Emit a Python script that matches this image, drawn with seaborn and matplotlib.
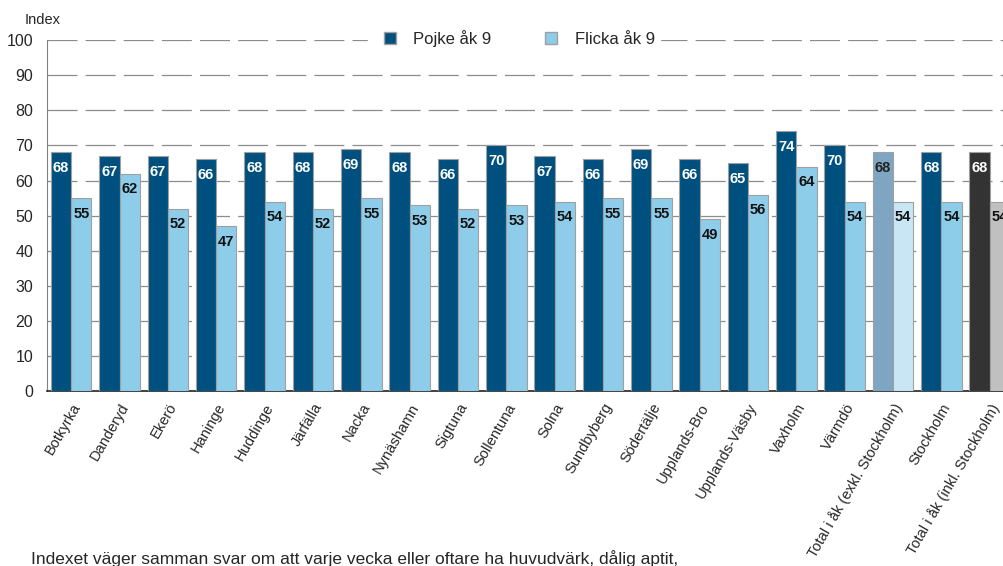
import numpy as np
import pandas as pd
import matplotlib
matplotlib.use("Agg")
import matplotlib.pyplot as plt
import seaborn as sns
from matplotlib.lines import Line2D

# Data
kommuner = ['Botkyrka', 'Danderyd', 'Ekerö', 'Haninge', 'Huddinge', 'Järfälla',
            'Nacka', 'Nynäshamn', 'Sigtuna', 'Sollentuna', 'Solna', 'Sundbyberg',
            'Södertälje', 'Upplands-Bro', 'Upplands-Väsby', 'Vaxholm', 'Värmdö',
            'Total i åk (exkl. Stockholm)', 'Stockholm', 'Total i åk (inkl. Stockholm)']
pojke = [68, 67, 67, 66, 68, 68, 69, 68, 66, 70, 67, 66, 69, 66, 65, 74, 70, 68, 68, 68]
flicka = [55, 62, 52, 47, 54, 52, 55, 53, 52, 53, 54, 55, 55, 49, 56, 64, 54, 54, 54, 54]

serier = ['Pojke åk 9', 'Flicka åk 9']

df = pd.DataFrame({
    'Kommun': kommuner * 2,
    'Grupp': [serier[0]] * len(kommuner) + [serier[1]] * len(kommuner),
    'Index': pojke + flicka,
})

DARK = '#00507f'
LIGHT = '#8ecdea'

sns.set_style('white')
plt.rcParams['font.family'] = ['Liberation Sans', 'DejaVu Sans']

fig = plt.figure(figsize=(10.04, 5.66), dpi=100)
ax = fig.add_axes([0.0468, 0.309, 0.963, 0.620])

sns.barplot(data=df, x='Kommun', y='Index', hue='Grupp', order=kommuner,
            hue_order=serier, palette=[DARK, LIGHT], width=0.84, saturation=1,
            edgecolor='#a0a0a0', linewidth=0.8, legend=False, ax=ax, zorder=3)

# special colours for the total bars
special = {
    'Total i åk (exkl. Stockholm)': ('#7ea6c2', '#c9e6f5', '#222222'),
    'Total i åk (inkl. Stockholm)': ('#333333', '#c0c0c0', 'white'),
}

for ci, cont in enumerate(ax.containers):
    for i, bar in enumerate(cont):
        name = kommuner[i]
        txtcol = 'white' if ci == 0 else '#111111'
        if name in special:
            bar.set_facecolor(special[name][ci])
            if ci == 0:
                txtcol = special[name][2]
        h = bar.get_height()
        ax.text(bar.get_x() + bar.get_width() / 2, h - 4.5, f'{h:.0f}',
                ha='center', va='center', fontsize=10.5, fontweight='bold',
                color=txtcol, zorder=4)

ax.set_ylim(0, 100)
ax.set_yticks(range(0, 101, 10))
ax.tick_params(axis='y', labelsize=11.5, length=0, pad=10)
ax.yaxis.grid(True, linestyle=(0, (24, 6.5)), color='#8c8c8c', linewidth=0.9, zorder=0)
ax.set_axisbelow(True)
ax.set_xlabel('')
ax.set_ylabel('')

ax.set_xticks(range(len(kommuner)))
ax.set_xticklabels(kommuner, rotation=60, ha='right', rotation_mode='anchor',
                   fontsize=10.5)
ax.tick_params(axis='x', length=0, pad=7)

for side in ['top', 'right']:
    ax.spines[side].set_visible(False)
ax.spines['left'].set_color('#808080')
ax.spines['bottom'].set_color('#222222')
ax.spines['bottom'].set_linewidth(1.2)

fig.text(0.025, 0.965, 'Index', fontsize=10.5, ha='left', va='center')

handles = [Line2D([0], [0], marker='s', linestyle='', markersize=9,
                  markerfacecolor=c, markeredgecolor='#a0a0a0')
           for c in [DARK, LIGHT]]
leg = ax.legend(handles, serier, ncol=2, loc='center',
                bbox_to_anchor=(0.512, 0.932), bbox_transform=fig.transFigure,
                frameon=True, framealpha=1, fontsize=12, columnspacing=2.6,
                handletextpad=0.4, borderpad=0.3, borderaxespad=0)
leg.get_frame().set_facecolor('white')
leg.get_frame().set_edgecolor('white')
leg.set_zorder(5)

fig.text(0.031, 0.014, 'Indexet väger samman svar om att varje vecka eller oftare ha huvudvärk, dålig aptit,',
         fontsize=12.5, ha='left', va='center')

fig.savefig('out.png', dpi=100)
